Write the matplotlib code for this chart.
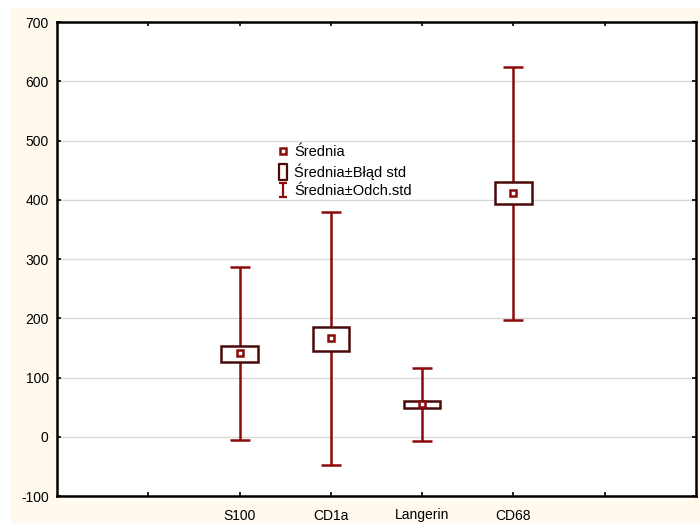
import matplotlib
matplotlib.use('Agg')
import matplotlib.pyplot as plt
from matplotlib.patches import Rectangle
from matplotlib.lines import Line2D
from matplotlib.path import Path

plt.rcParams['font.family'] = ['Liberation Sans', 'DejaVu Sans']
plt.rcParams['font.size'] = 10
plt.rcParams['axes.unicode_minus'] = False

# data
categories = ['S100', 'CD1a', 'Langerin', 'CD68']
means = [141, 167, 55, 412]
se_low = [127, 145, 48, 392]
se_high = [154, 186, 60, 430]
sd_low = [-5, -48, -7, 197]
sd_high = [286, 379, 116, 624]
xpos = [2, 3, 4, 5]

whisker_col = '#8B0A0A'
box_col = '#4A0A0A'
cream = '#FFF9EE'

fig = plt.figure(figsize=(7, 5.25), dpi=100)
fig.patch.set_facecolor('white')
fig.patches.append(Rectangle((11/700, 0.004), 1, 1 - 8/525 - 0.004, transform=fig.transFigure,
                             facecolor=cream, edgecolor='none', zorder=-10))

ax = fig.add_axes([57/700, 1 - 496/525, 639/700, 474/525])
ax.set_facecolor('white')

# SD whiskers
ax.errorbar(xpos, means,
            yerr=[[m - l for m, l in zip(means, sd_low)], [h - m for m, h in zip(means, sd_high)]],
            fmt='none', ecolor=whisker_col, elinewidth=1.8, capsize=7, capthick=1.8, zorder=2)

# SE boxes
bw = 0.4
for x, lo, hi in zip(xpos, se_low, se_high):
    ax.add_patch(Rectangle((x - bw/2, lo), bw, hi - lo, facecolor='white',
                           edgecolor=box_col, linewidth=1.8, zorder=3))

# means
ax.plot(xpos, means, 's', ms=5, mfc='white', mec=whisker_col, mew=1.8, ls='none', zorder=4)

ax.set_xlim(0, 7)
ax.set_ylim(-100, 700)
ax.set_xticks([1, 2, 3, 4, 5, 6])
ax.set_xticklabels(['', 'S100', 'CD1a', 'Langerin', 'CD68', ''])
ax.set_yticks(range(-100, 701, 100))
ax.tick_params(direction='in', length=3, width=1.2, top=True, right=True)
ax.tick_params(axis='x', pad=9)
ax.tick_params(axis='y', pad=6)
for s in ax.spines.values():
    s.set_linewidth(1.8)
ax.grid(axis='y', color='#D9D9D9', linewidth=1)
ax.set_axisbelow(True)

# legend symbols
box_marker = Path([(-0.57, -1), (0.57, -1), (0.57, 1), (-0.57, 1), (-0.57, -1)],
                  [Path.MOVETO, Path.LINETO, Path.LINETO, Path.LINETO, Path.CLOSEPOLY])
bar_marker = Path([(-0.6, 1), (0.6, 1), (0, 1), (0, -1), (-0.6, -1), (0.6, -1)],
                  [Path.MOVETO, Path.LINETO, Path.MOVETO, Path.LINETO, Path.MOVETO, Path.LINETO])
h1 = Line2D([], [], marker='s', ms=5, mfc='white', mec=whisker_col, mew=1.8, ls='none')
h2 = Line2D([], [], marker=box_marker, ms=11, mfc=cream, mec=box_col, mew=1.6, ls='none')
h3 = Line2D([], [], marker=bar_marker, ms=10.5, mfc='none', mec=whisker_col, mew=1.6, ls='none')
leg = ax.legend([h1, h2, h3], ['Średnia', 'Średnia±Błąd std', 'Średnia±Odch.std'],
                loc='upper left', bbox_to_anchor=(0.342, 0.74), frameon=False,
                handlelength=1.0, handletextpad=0.3, labelspacing=0.3, fontsize=10.5,
                borderpad=0, borderaxespad=0)

fig.savefig('out.png', dpi=100, facecolor=fig.get_facecolor())
